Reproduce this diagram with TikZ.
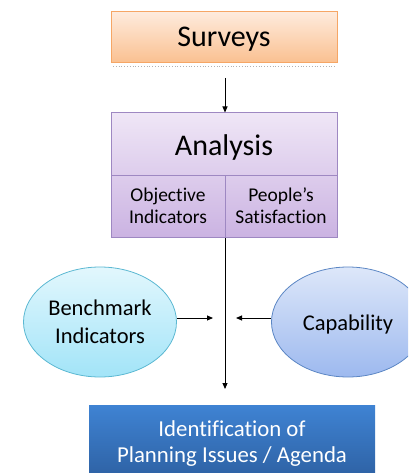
\documentclass[tikz,border=0pt]{standalone}
\usepackage{fontspec}
\setmainfont{Carlito}[Ligatures={NoCommon,NoContextual}]
\usetikzlibrary{arrows.meta,shapes.geometric}
\definecolor{survTop}{HTML}{FEEBDD}
\definecolor{survBot}{HTML}{FAC090}
\definecolor{survLine}{HTML}{F6A665}
\definecolor{anaTop}{HTML}{EFE6F6}
\definecolor{anaBot}{HTML}{CBB3E2}
\definecolor{anaLine}{HTML}{9E88C2}
\definecolor{benTop}{HTML}{E2F7FD}
\definecolor{benBot}{HTML}{A2E4F8}
\definecolor{benLine}{HTML}{5BB8D2}
\definecolor{capTop}{HTML}{DDE7F9}
\definecolor{capBot}{HTML}{9DB9EF}
\definecolor{capLine}{HTML}{5B86C4}
\definecolor{idTop}{HTML}{3F83D3}
\definecolor{idBot}{HTML}{2C5E9F}
\tikzset{
  arr/.style={draw=black, line width=0.9pt, -{Triangle[length=6pt,width=5pt]}},
  lbl/.style={inner sep=0pt, align=center, text=black, anchor=base},
}
\begin{document}
\begin{tikzpicture}[x=1pt,y=-1pt]
\useasboundingbox (0,0) rectangle (408,473);
\clip (0,0) rectangle (408,473);
% Surveys
\node[draw=survLine, line width=1pt, top color=survTop, bottom color=survBot,
      minimum width=226pt, minimum height=51pt, inner sep=0pt] (surveys) at (224,37.5) {};
\node[lbl, font=\fontsize{30}{32}\selectfont] (surveystext) at (224,47) {Surveys};
\draw[gray!60, dotted, line width=0.8pt] (113,66) -- (335,66);
% Analysis box
\node[draw=anaLine, line width=1pt, top color=anaTop, bottom color=anaBot,
      minimum width=226pt, minimum height=124pt, inner sep=0pt] (abox) at (224,175) {};
\coordinate (divL) at (111,175);
\coordinate (divR) at (337,175);
\coordinate (divT) at (225,175);
\draw[anaLine, line width=1pt] (divL) -- (divR);
\draw[anaLine, line width=1pt] (divT) -- (divT |- abox.south);
\node[lbl, font=\fontsize{30}{32}\selectfont] (analysis) at (224,155) {Analysis};
\node[lbl, font=\fontsize{19.5}{21.5}\selectfont] (objective) at (168,223) {Objective\\Indicators};
\node[lbl, font=\fontsize{19.5}{21.5}\selectfont] (people) at (281,223) {People’s\\Satisfaction};
% Ellipses
\node[ellipse, draw=benLine, line width=0.8pt, top color=benTop, bottom color=benBot,
      minimum width=153pt, minimum height=110pt, inner sep=0pt] (bench) at (100,322) {};
\node[lbl, font=\fontsize{22.5}{28}\selectfont] (benchtext) at (100,343) {Benchmark\\Indicators};
\node[ellipse, draw=capLine, line width=0.8pt, top color=capTop, bottom color=capBot,
      minimum width=153pt, minimum height=110pt, inner sep=0pt] (cap) at (348,322) {};
\node[lbl, font=\fontsize{22.5}{28}\selectfont] (captext) at (348,330) {Capability};
% Bottom box
\node[top color=idTop, bottom color=idBot,
      minimum width=286pt, minimum height=80pt, inner sep=0pt] (ident) at (232,445) {};
\node[lbl, text=white, font=\fontsize{22.8}{25.5}\selectfont] (identtext) at (232,462) {Identification of\\Planning Issues / Agenda};
% Connectors
\coordinate (sstart) at (225,78);
\coordinate (benchEnd) at (213,318);
\coordinate (capEnd) at (236,318);
\coordinate (downEnd) at (225,389);
\draw[arr] (sstart) -- (sstart |- abox.north);
\draw[arr] (divT |- abox.south) -- (downEnd);
\draw[arr] (bench.east |- benchEnd) -- (benchEnd);
\draw[arr] (cap.west |- capEnd) -- (capEnd);
\end{tikzpicture}
\end{document}
